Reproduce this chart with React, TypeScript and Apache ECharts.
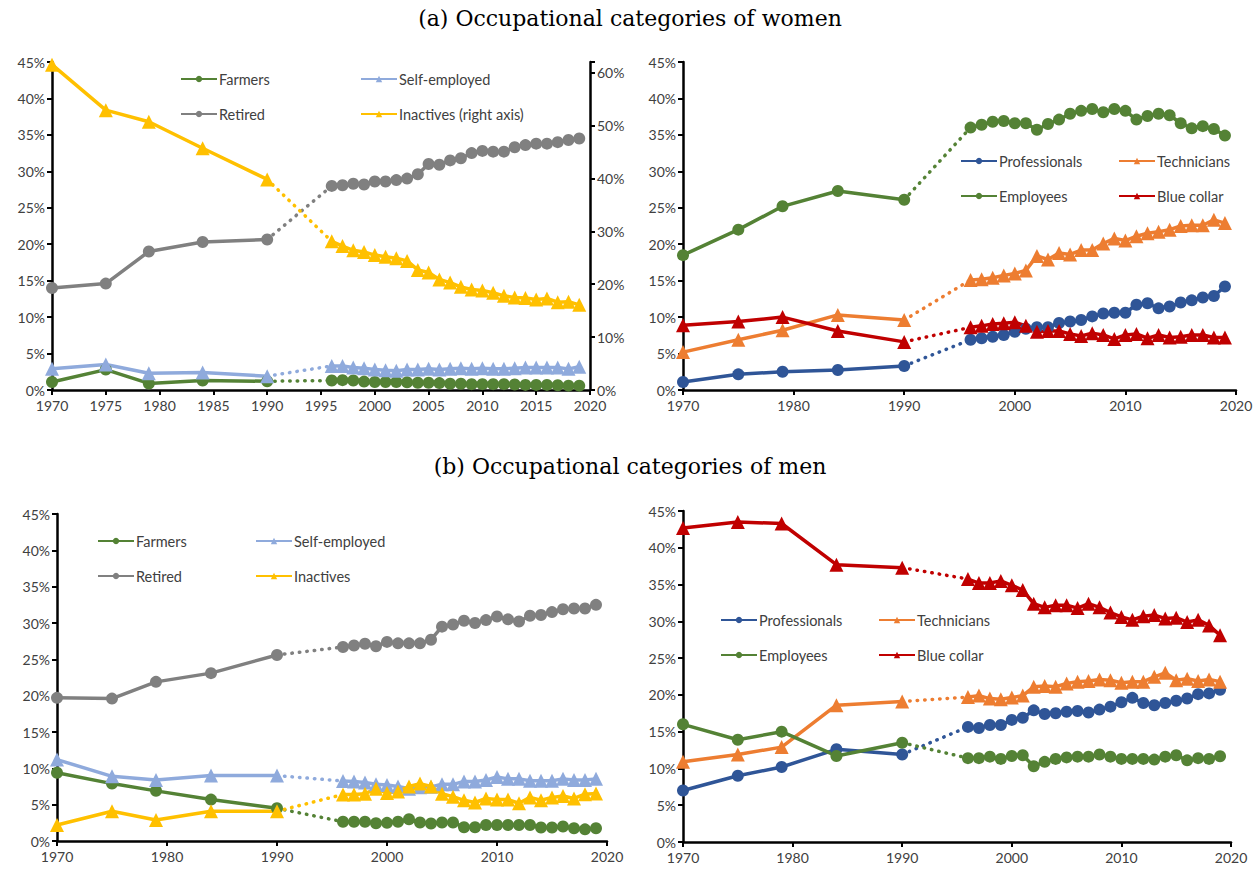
import React, { useEffect, useRef } from "react";
import * as echarts from "echarts";

// ---------- data ----------
const YEARS = [1970, 1975, 1979, 1984, 1990, 1996, 1997, 1998, 1999, 2000, 2001, 2002, 2003, 2004, 2005, 2006, 2007, 2008, 2009, 2010, 2011, 2012, 2013, 2014, 2015, 2016, 2017, 2018, 2019];

// (a) women, left panel
const W_FARMERS = [1.1, 2.8, 0.9, 1.3, 1.2, 1.3, 1.35, 1.3, 1.15, 1.1, 1.1, 1.1, 1.05, 1.0, 1.0, 0.95, 0.85, 0.85, 0.8, 0.8, 0.8, 0.8, 0.75, 0.7, 0.7, 0.7, 0.65, 0.6, 0.6];
const W_SELF = [2.9, 3.5, 2.3, 2.4, 1.9, 3.3, 3.3, 3.1, 3.0, 2.8, 2.7, 2.65, 2.8, 2.8, 2.9, 2.8, 2.9, 3.0, 2.9, 3.0, 2.9, 2.9, 3.0, 3.1, 3.1, 3.1, 3.1, 2.9, 3.2];
const W_RETIRED = [14.0, 14.6, 19.0, 20.3, 20.65, 28.0, 28.1, 28.3, 28.2, 28.6, 28.6, 28.8, 29.0, 29.6, 31.0, 30.9, 31.5, 31.8, 32.5, 32.8, 32.7, 32.7, 33.3, 33.6, 33.8, 33.8, 34.0, 34.3, 34.5];
const W_INACTIVES = [61.5, 52.9, 50.7, 45.7, 39.8, 28.1, 27.2, 26.4, 26.1, 25.5, 25.2, 24.9, 24.4, 22.7, 22.2, 20.9, 20.3, 19.5, 19.0, 18.8, 18.4, 17.8, 17.5, 17.4, 17.1, 17.3, 16.6, 16.7, 16.1];

// (a) women, right panel
const W_PROF = [1.1, 2.15, 2.5, 2.75, 3.3, 6.9, 7.1, 7.3, 7.55, 8.0, 8.4, 8.6, 8.6, 9.2, 9.4, 9.6, 10.1, 10.5, 10.6, 10.6, 11.7, 11.9, 11.2, 11.45, 12.0, 12.3, 12.7, 12.9, 14.2];
const W_TECH = [5.2, 6.9, 8.2, 10.3, 9.6, 15.1, 15.2, 15.4, 15.7, 16.0, 16.4, 18.4, 17.9, 18.8, 18.6, 19.2, 19.2, 20.1, 20.8, 20.5, 21.1, 21.5, 21.7, 22.0, 22.5, 22.6, 22.6, 23.35, 22.9];
const W_EMPL = [18.5, 22.0, 25.2, 27.3, 26.1, 36.0, 36.4, 36.8, 36.9, 36.6, 36.6, 35.7, 36.5, 37.1, 37.9, 38.3, 38.55, 38.1, 38.55, 38.3, 37.1, 37.6, 37.9, 37.7, 36.6, 35.9, 36.2, 35.8, 34.9];
const W_BLUE = [8.9, 9.4, 10.0, 8.1, 6.6, 8.6, 8.8, 9.05, 9.15, 9.3, 8.8, 8.0, 8.1, 8.1, 7.7, 7.4, 7.8, 7.55, 7.0, 7.55, 7.7, 7.1, 7.55, 7.2, 7.3, 7.55, 7.55, 7.2, 7.2];

// (b) men, left panel
const M_FARMERS = [9.4, 7.9, 6.9, 5.7, 4.5, 2.65, 2.65, 2.65, 2.45, 2.5, 2.65, 3.0, 2.55, 2.4, 2.55, 2.55, 1.9, 1.9, 2.2, 2.2, 2.2, 2.2, 2.2, 1.85, 1.85, 2.0, 1.75, 1.6, 1.75];
const M_SELF = [11.2, 8.9, 8.4, 9.0, 9.0, 8.25, 8.2, 8.05, 7.8, 7.7, 7.5, 7.2, 7.4, 7.45, 7.8, 7.8, 8.2, 8.2, 8.4, 8.8, 8.55, 8.55, 8.3, 8.3, 8.3, 8.55, 8.4, 8.4, 8.55];
const M_RETIRED = [19.7, 19.6, 21.9, 23.1, 25.6, 26.7, 26.9, 27.15, 26.8, 27.4, 27.2, 27.2, 27.2, 27.7, 29.5, 29.8, 30.3, 30.0, 30.4, 30.9, 30.5, 30.2, 31.0, 31.1, 31.5, 31.9, 32.0, 32.0, 32.5];
const M_INACTIVES = [2.2, 4.1, 2.9, 4.1, 4.1, 6.4, 6.4, 6.5, 7.2, 6.6, 6.8, 7.5, 7.9, 7.5, 6.5, 6.1, 5.6, 5.3, 5.85, 5.7, 5.7, 5.2, 6.0, 5.6, 6.0, 6.2, 5.85, 6.45, 6.55];

// (b) men, right panel
const M_PROF = [7.0, 9.0, 10.2, 12.6, 11.9, 15.65, 15.5, 15.9, 15.9, 16.6, 16.9, 17.9, 17.4, 17.5, 17.7, 17.8, 17.6, 18.0, 18.4, 19.0, 19.6, 18.9, 18.6, 18.9, 19.2, 19.5, 20.1, 20.2, 20.7];
const M_TECH = [10.9, 11.9, 12.9, 18.6, 19.1, 19.7, 19.9, 19.5, 19.4, 19.65, 19.9, 21.1, 21.2, 21.1, 21.55, 21.8, 21.9, 22.1, 22.0, 21.65, 21.8, 21.8, 22.45, 23.0, 22.0, 22.2, 21.9, 22.1, 21.8];
const M_EMPL = [16.0, 13.9, 15.0, 11.7, 13.5, 11.4, 11.4, 11.6, 11.3, 11.7, 11.8, 10.3, 10.9, 11.3, 11.5, 11.6, 11.6, 11.9, 11.6, 11.3, 11.3, 11.3, 11.2, 11.6, 11.8, 11.1, 11.4, 11.3, 11.65];
const M_BLUE = [42.7, 43.5, 43.3, 37.7, 37.3, 35.75, 35.2, 35.2, 35.5, 34.9, 34.25, 32.4, 31.9, 32.2, 32.2, 31.8, 32.4, 31.9, 31.2, 30.6, 30.2, 30.7, 30.85, 30.4, 30.5, 29.9, 30.2, 29.45, 28.1];

const TITLE_A = "(a) Occupational categories of women";
const TITLE_B = "(b) Occupational categories of men";

// ---------- styles ----------
const C_GREEN = "#548235";
const C_LBLUE = "#8FAADC";
const C_GRAY = "#808080";
const C_GOLD = "#FFC000";
const C_BLUE = "#2F5597";
const C_ORANGE = "#ED7D31";
const C_RED = "#C00000";

const FONT = "Lato, 'Liberation Sans', sans-serif";
const SPLIT = 5;

function makeSeries(name: string, vals: number[], color: string, symbol: string, xAxisIndex: number, yAxisIndex: number) {
  const pts = YEARS.map((y, i) => [y, vals[i]]);
  const size = symbol === "triangle" ? 14 : 12;
  const common = {
    type: "line",
    name,
    xAxisIndex,
    yAxisIndex,
    symbol,
    symbolSize: size,
    itemStyle: { color },
    lineStyle: { color, width: 3.5 },
    emphasis: { disabled: true },
    silent: true,
  };
  return [
    { ...common, data: pts.slice(0, SPLIT) },
    {
      ...common,
      data: pts.slice(SPLIT - 1, SPLIT + 1),
      showSymbol: false,
      symbol: "none",
      lineStyle: { color, width: 3.5, type: [0.5, 7], cap: "round" },
    },
    { ...common, data: pts.slice(SPLIT) },
  ];
}

const axisCommon = {
  axisLine: { show: true, lineStyle: { color: "#000", width: 2.5 } },
  axisTick: { show: true, length: 5, lineStyle: { color: "#000", width: 2 } },
  splitLine: { show: false },
  axisLabel: { color: "#404040", fontFamily: FONT, fontSize: 14 },
};

function xAxis(gridIndex: number, interval: number) {
  return {
    type: "value",
    gridIndex,
    min: 1970,
    max: 2020,
    interval,
    ...axisCommon,
    axisLabel: { ...axisCommon.axisLabel, margin: 8, formatter: (v: number) => String(v) },
  };
}

function yAxis(gridIndex: number, max: number, interval: number, position = "left") {
  return {
    type: "value",
    gridIndex,
    min: 0,
    max,
    interval,
    position,
    ...axisCommon,
    axisLabel: {
      ...axisCommon.axisLabel,
      margin: 7,
      formatter: (v: number) => (Math.abs(v / interval - Math.round(v / interval)) < 1e-6 ? v + "%" : ""),
    },
  };
}

function legend(names: string[], left: number, top: number) {
  return {
    data: names,
    orient: "vertical",
    left,
    top,
    padding: 0,
    itemWidth: 36,
    itemHeight: 8,
    itemGap: 19,
    selectedMode: false,
    textStyle: { fontFamily: FONT, fontSize: 14.5, color: "#404040", lineHeight: 16, padding: [0, 0, 0, -3] },
  };
}

export default function App() {
  const ref = useRef<HTMLDivElement>(null);
  useEffect(() => {
    if (!ref.current) return;
    const chart = echarts.init(ref.current, null, { renderer: "svg" });
    const series = [
      ...makeSeries("Farmers", W_FARMERS, C_GREEN, "circle", 0, 0),
      ...makeSeries("Self-employed", W_SELF, C_LBLUE, "triangle", 0, 0),
      ...makeSeries("Retired", W_RETIRED, C_GRAY, "circle", 0, 0),
      ...makeSeries("Inactives (right axis)", W_INACTIVES, C_GOLD, "triangle", 0, 1),
      ...makeSeries("Professionals", W_PROF, C_BLUE, "circle", 1, 2),
      ...makeSeries("Technicians", W_TECH, C_ORANGE, "triangle", 1, 2),
      ...makeSeries("Employees", W_EMPL, C_GREEN, "circle", 1, 2),
      ...makeSeries("Blue collar", W_BLUE, C_RED, "triangle", 1, 2),
      ...makeSeries("Farmers", M_FARMERS, C_GREEN, "circle", 2, 3),
      ...makeSeries("Self-employed", M_SELF, C_LBLUE, "triangle", 2, 3),
      ...makeSeries("Retired", M_RETIRED, C_GRAY, "circle", 2, 3),
      ...makeSeries("Inactives", M_INACTIVES, C_GOLD, "triangle", 2, 3),
      ...makeSeries("Professionals", M_PROF, C_BLUE, "circle", 3, 4),
      ...makeSeries("Technicians", M_TECH, C_ORANGE, "triangle", 3, 4),
      ...makeSeries("Employees", M_EMPL, C_GREEN, "circle", 3, 4),
      ...makeSeries("Blue collar", M_BLUE, C_RED, "triangle", 3, 4),
    ];
    chart.setOption({
      animation: false,
      backgroundColor: "#fff",
      graphic: [
        { type: "text", left: "center", top: 7, style: { text: TITLE_A, font: "22px 'DejaVu Serif', serif", fill: "#000" } },
        { type: "text", left: "center", top: 455, style: { text: TITLE_B, font: "22px 'DejaVu Serif', serif", fill: "#000" } },
      ],
      grid: [
        { left: 52, top: 62, width: 538, height: 328 },
        { left: 683, top: 62, width: 553, height: 328 },
        { left: 57, top: 514, width: 550, height: 327 },
        { left: 683, top: 511, width: 548, height: 331 },
      ],
      xAxis: [xAxis(0, 5), xAxis(1, 10), xAxis(2, 10), xAxis(3, 10)],
      yAxis: [yAxis(0, 45, 5), yAxis(0, 62, 10, "right"), yAxis(1, 45, 5), yAxis(2, 45, 5), yAxis(3, 45, 5)],
      legend: [
        legend(["Farmers", "Retired"], 180, 71),
        legend(["Self-employed", "Inactives (right axis)"], 360, 71),
        legend(["Professionals", "Employees"], 960, 153),
        legend(["Technicians", "Blue collar"], 1118, 153),
        legend(["Farmers", "Retired"], 97, 533),
        legend(["Self-employed", "Inactives"], 255, 533),
        legend(["Professionals", "Employees"], 720, 612),
        legend(["Technicians", "Blue collar"], 878, 612),
      ],
      series,
    });
    return () => chart.dispose();
  }, []);
  return <div ref={ref} style={{ position: "absolute", left: 0, top: 0, width: 1260, height: 872 }} />;
}
